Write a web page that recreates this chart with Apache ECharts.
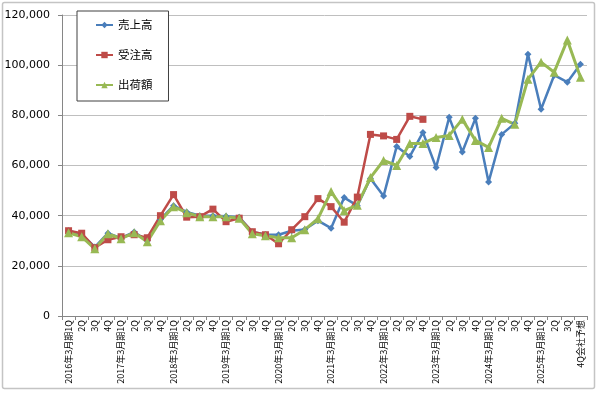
<!DOCTYPE html>
<html>
<head>
<meta charset="utf-8">
<script src="https://cdn.jsdelivr.net/npm/echarts@6/dist/echarts.min.js"></script>
<style>
html,body{margin:0;padding:0;background:#fff;}
#chart{width:600px;height:393px;}
</style>
</head>
<body>
<div id="chart"></div>
<script>
const categories = [
  '2016年3月期1Q','2Q','3Q','4Q',
  '2017年3月期1Q','2Q','3Q','4Q',
  '2018年3月期1Q','2Q','3Q','4Q',
  '2019年3月期1Q','2Q','3Q','4Q',
  '2020年3月期1Q','2Q','3Q','4Q',
  '2021年3月期1Q','2Q','3Q','4Q',
  '2022年3月期1Q','2Q','3Q','4Q',
  '2023年3月期1Q','2Q','3Q','4Q',
  '2024年3月期1Q','2Q','3Q','4Q',
  '2025年3月期1Q','2Q','3Q','4Q会社予想'
];
const seriesNames = ['売上高','受注高','出荷額'];
const sales = [
  34000,32500,27500,33000,
  31000,33500,30000,38500,
  44000,41500,40000,40000,
  39800,39400,33500,32500,
  32400,34000,34500,38000,
  35000,47200,44000,54800,
  47800,67600,63600,73200,
  59200,79200,65400,78800,
  53400,72400,76800,104400,
  82400,96000,93200,100400
];
const orders = [
  34000,33000,27200,30400,
  31600,32400,31200,40000,
  48400,39400,39600,42600,
  37600,39000,33600,32400,
  28800,34400,39600,46800,
  43600,37400,47400,72400,
  71800,70400,79600,78400,
  null,null,null,null,
  null,null,null,null,
  null,null,null,null
];
const shipments = [
  33200,31600,26800,32800,
  30800,33200,29600,38000,
  43600,41200,39600,39600,
  39600,39000,32800,32000,
  31200,31200,34400,38800,
  49600,42000,44200,55200,
  62000,60000,68800,68800,
  71200,72000,78400,70000,
  67200,78800,76400,94400,
  101200,97200,110000,95200
];
const yTicks = { min: 0, max: 120000, interval: 20000 };

const chart = echarts.init(document.getElementById('chart'), null, {renderer:'canvas'});
const cjk = '"Noto Sans CJK JP", "Noto Sans", sans-serif';
chart.setOption({
  animation: false,
  backgroundColor: '#ffffff',
  graphic: [{
    type: 'rect',
    shape: { x: 2.5, y: 2.5, width: 592, height: 386, r: 2 },
    style: { fill: 'none', stroke: '#c4c4c4', lineWidth: 1.5 },
    silent: true,
    z: -1
  }],
  grid: { left: 62, right: 13, top: 15, bottom: 77, containLabel: false },
  legend: {
    data: seriesNames,
    orient: 'vertical',
    left: 77,
    top: 11,
    padding: [7, 16, 9, 18],
    itemGap: 16,
    itemWidth: 17,
    itemHeight: 8,
    borderColor: '#404040',
    borderWidth: 1,
    backgroundColor: '#ffffff',
    textStyle: { fontFamily: cjk, fontSize: 11.5, color: '#000', lineHeight: 14 }
  },
  xAxis: {
    type: 'category',
    data: categories,
    boundaryGap: true,
    axisLine: { lineStyle: { color: '#868686', width: 1 } },
    axisTick: { show: true, length: 4, lineStyle: { color: '#868686' } },
    axisLabel: { interval: 0, rotate: 90, fontSize: 9, fontFamily: cjk, color: '#000', margin: 4 }
  },
  yAxis: {
    type: 'value',
    min: yTicks.min,
    max: yTicks.max,
    interval: yTicks.interval,
    axisLine: { show: true, lineStyle: { color: '#868686', width: 1 } },
    axisTick: { show: true, length: 4, lineStyle: { color: '#868686' } },
    splitLine: { lineStyle: { color: '#bfbfbf', width: 1 } },
    axisLabel: {
      fontSize: 11, fontFamily: '"DejaVu Sans", sans-serif', color: '#000', margin: 12,
      formatter: v => v.toLocaleString('en-US')
    }
  },
  series: [
    {
      name: seriesNames[0], type: 'line', data: sales,
      color: '#4A7EBB',
      lineStyle: { width: 2.5, color: '#4A7EBB' },
      symbol: 'diamond', symbolSize: 7,
      itemStyle: { color: '#4A7EBB' }
    },
    {
      name: seriesNames[1], type: 'line', data: orders,
      color: '#BE4B48',
      lineStyle: { width: 2.5, color: '#BE4B48' },
      symbol: 'rect', symbolSize: 7,
      itemStyle: { color: '#BE4B48' }
    },
    {
      name: seriesNames[2], type: 'line', data: shipments,
      color: '#98B954',
      lineStyle: { width: 3, color: '#98B954' },
      symbol: 'triangle', symbolSize: 9,
      itemStyle: { color: '#98B954' }
    }
  ]
});
</script>
</body>
</html>
